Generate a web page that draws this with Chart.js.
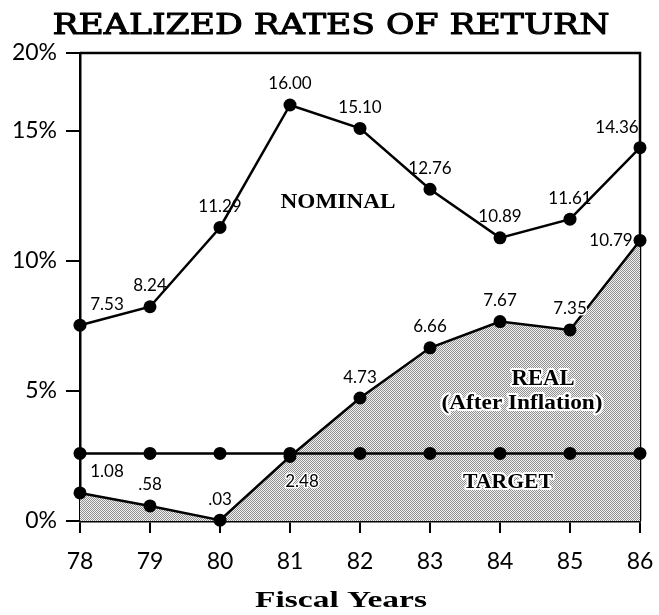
<!DOCTYPE html>
<html>
<head>
<meta charset="utf-8">
<script src="https://cdn.jsdelivr.net/npm/chart.js@4.4.1/dist/chart.umd.min.js"></script>
<style>
  html, body { margin: 0; padding: 0; background: #fff; }
  canvas { display: block; }
</style>
</head>
<body>
<canvas id="returnsChart" width="659" height="615"></canvas>
<script>
// ================= Data =================
const fiscalYears = ['78', '79', '80', '81', '82', '83', '84', '85', '86'];
const nominalReturns = [7.53, 8.24, 11.29, 16.00, 15.10, 12.76, 10.89, 11.61, 14.36];
const realReturns = [1.08, 0.58, 0.03, 2.48, 4.73, 6.66, 7.67, 7.35, 10.79];
const targetReturns = [2.6, 2.6, 2.6, 2.6, 2.6, 2.6, 2.6, 2.6, 2.6];
const yTickValues = [0, 5, 10, 15, 18];
const yTickLabels = ['0%', '5%', '10%', '15%', '20%'];
// which side of its point each value label sits on
const nominalLabelSide = ['ne', 'n', 'n', 'n', 'n', 'n', 'n', 'n', 'nw'];
const realLabelSide = ['ne', 'n', 'n', 'se', 'n', 'n', 'n', 'n', 'w'];

const sideOffset = { n: [0, -21], ne: [27, -21], nw: [-23, -20], se: [12, 25], w: [-29, 0] };
const fmt = v => v.toFixed(2).replace(/^0\./, '.');

// stippled grey for the area under the real line
function makeStipple() {
  const pc = document.createElement('canvas');
  pc.width = 2; pc.height = 2;
  const c = pc.getContext('2d');
  c.fillStyle = '#f2f2f2'; c.fillRect(0, 0, 2, 2);
  c.fillStyle = '#909090'; c.fillRect(0, 0, 1, 1); c.fillRect(1, 1, 1, 1);
  return c.createPattern(pc, 'repeat');
}

// draw text centred at cx, stretched to a given width
function fitText(ctx, text, cx, y, width, halo, thicken) {
  const w = ctx.measureText(text).width;
  ctx.save();
  ctx.translate(cx, y);
  ctx.scale(width / w, 1);
  ctx.textAlign = 'center';
  ctx.textBaseline = 'alphabetic';
  if (halo) {
    ctx.strokeStyle = '#fff'; ctx.lineWidth = 4; ctx.lineJoin = 'round';
    ctx.strokeText(text, 0, 0);
  }
  ctx.fillStyle = '#000';
  ctx.fillText(text, 0, 0);
  if (thicken) {
    ctx.strokeStyle = '#000'; ctx.lineWidth = thicken;
    ctx.strokeText(text, 0, 0);
  }
  ctx.restore();
}

const frame = {
  id: 'frame',
  beforeDatasetsDraw(chart) {
    const { ctx, chartArea: { left, right, top, bottom } } = chart;
    ctx.save();
    ctx.strokeStyle = '#000';
    ctx.lineWidth = 2.5;
    ctx.beginPath();
    ctx.moveTo(left, top);
    ctx.lineTo(right, top);
    ctx.lineTo(right, bottom);
    ctx.stroke();
    ctx.restore();
  },
  afterDatasetsDraw(chart) {
    const ctx = chart.ctx;
    const xs = chart.scales.x, ys = chart.scales.y;
    ctx.save();
    ctx.font = '17px Lato';
    ctx.textAlign = 'center';
    ctx.textBaseline = 'middle';
    const putLabels = (vals, sides, halo) => {
      vals.forEach((v, i) => {
        const off = sideOffset[sides[i]];
        const x = xs.getPixelForValue(i) + off[0];
        const y = ys.getPixelForValue(v) + off[1];
        if (halo) {
          ctx.strokeStyle = '#fff'; ctx.lineWidth = 3; ctx.lineJoin = 'round';
          ctx.strokeText(fmt(v), x, y);
        }
        ctx.fillStyle = '#000';
        ctx.fillText(fmt(v), x, y);
      });
    };
    putLabels(nominalReturns, nominalLabelSide, false);
    putLabels(realReturns, realLabelSide, true);

    ctx.font = 'bold 22px "Liberation Serif"';
    fitText(ctx, 'NOMINAL', 338, 208, 115, false);
    ctx.font = 'bold 23px "Liberation Serif"';
    fitText(ctx, 'REAL', 543, 385, 63, true);
    ctx.font = 'bold 20px "Liberation Serif"';
    fitText(ctx, '(After Inflation)', 522, 409, 161, true);
    ctx.font = 'bold 22px "Liberation Serif"';
    fitText(ctx, 'TARGET', 508, 488, 90, true);

    ctx.font = '28px "DejaVu Serif"';
    fitText(ctx, 'REALIZED RATES OF RETURN', 331, 34, 557, false, 1);
    ctx.font = 'bold 23px "Liberation Serif"';
    fitText(ctx, 'Fiscal Years', 341, 607, 172, false);
    ctx.restore();
  }
};

const lineStyle = {
  borderColor: '#000',
  borderWidth: 2.5,
  pointRadius: 6.5,
  pointBackgroundColor: '#000',
  pointBorderWidth: 0,
  tension: 0,
  clip: false
};

const ctx = document.getElementById('returnsChart').getContext('2d');
new Chart(ctx, {
  type: 'line',
  data: {
    labels: fiscalYears,
    datasets: [
      { ...lineStyle, label: 'Nominal', data: nominalReturns, fill: false },
      { ...lineStyle, label: 'Target', data: targetReturns, fill: false },
      { ...lineStyle, label: 'Real', data: realReturns, fill: 'origin', backgroundColor: makeStipple() }
    ]
  },
  options: {
    responsive: false,
    animation: false,
    layout: { padding: { top: 53, right: 19, left: 0, bottom: 0 } },
    plugins: {
      legend: { display: false },
      tooltip: { enabled: false },
      title: { display: false }
    },
    scales: {
      x: {
        offset: false,
        grid: { drawOnChartArea: false, offset: false, color: '#000', lineWidth: 2, tickLength: 12 },
        border: { color: '#000', width: 2.5 },
        ticks: { color: '#000', font: { family: 'Lato', size: 23 }, padding: 15, maxRotation: 0, autoSkip: false },
        afterFit: s => { s.height = 94; s.paddingLeft = 0; s.paddingRight = 0; }
      },
      y: {
        min: 0,
        max: 18,
        grid: { drawOnChartArea: false, color: '#000', lineWidth: 2, tickLength: 14 },
        border: { color: '#000', width: 2.5 },
        ticks: {
          color: '#000',
          font: { family: 'Lato', size: 23 },
          padding: 9,
          callback: v => yTickLabels[yTickValues.indexOf(v)]
        },
        afterBuildTicks: s => { s.ticks = yTickValues.map(v => ({ value: v })); },
        afterFit: s => { s.width = 80; }
      }
    }
  },
  plugins: [frame]
});
</script>
</body>
</html>
